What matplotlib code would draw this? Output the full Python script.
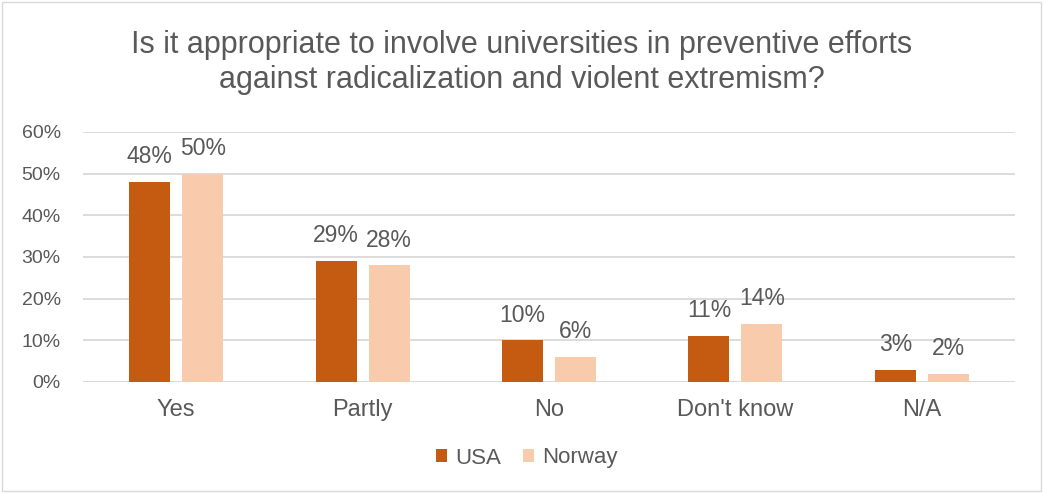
import matplotlib
matplotlib.use("Agg")
import matplotlib.pyplot as plt
from matplotlib.patches import Rectangle
import numpy as np

categories = ["Yes", "Partly", "No", "Don't know", "N/A"]
usa = [48, 29, 10, 11, 3]
norway = [50, 28, 6, 14, 2]
yticks = [0, 10, 20, 30, 40, 50, 60]

plt.rcParams['font.family'] = ['Liberation Sans', 'DejaVu Sans']
txt = '#595959'

fig = plt.figure(figsize=(10.43, 4.93), dpi=100)
ax = fig.add_axes([83/1043, 1-382/493, (1015-83)/1043, 250/493])

x = np.arange(len(categories))
w = 0.22
off = 0.142
b1 = ax.bar(x - off, usa, w, color='#C55A11', label='USA', zorder=3)
b2 = ax.bar(x + off, norway, w, color='#F8CBAD', label='Norway', zorder=3)
for bars, vals in ((b1, usa), (b2, norway)):
    for b, v in zip(bars, vals):
        ax.text(b.get_x() + b.get_width()/2, v + 4.5, f"{v}%", ha='center', va='baseline',
                fontsize=16.5, color=txt)

ax.set_xlim(-0.5, len(categories) - 0.5)
ax.set_ylim(0, 60)
ax.set_yticks(yticks)
ax.set_yticklabels([f"{t}%" for t in yticks], fontsize=14, color=txt)
ax.set_xticks(x)
ax.set_xticklabels(categories, fontsize=17, color=txt)
ax.tick_params(axis='y', length=0, pad=16)
ax.tick_params(axis='x', length=0, pad=12)
ax.yaxis.grid(True, color='#D9D9D9', linewidth=1.3, zorder=0)
for s in ax.spines.values():
    s.set_visible(False)
ax.axhline(0, color='#D9D9D9', linewidth=1.3, zorder=1)

fig.text(0.5, 1-62.5/493, "Is it appropriate to involve universities in preventive efforts\nagainst radicalization and violent extremism?",
         ha='center', va='center', fontsize=22, color=txt, linespacing=1.18)

fig.legend(loc='center', bbox_to_anchor=(527/1043, 1-458/493), ncol=2, frameon=False,
           fontsize=16, handlelength=0.5, handleheight=0.5, handletextpad=0.35, columnspacing=1.0,
           labelcolor=txt)

fig.patches.append(Rectangle((2/1043, 2/493), 1-4/1043, 1-4/493, transform=fig.transFigure,
                             fill=False, edgecolor='#D9D9D9', linewidth=1))

fig.savefig("out.png", dpi=100)
